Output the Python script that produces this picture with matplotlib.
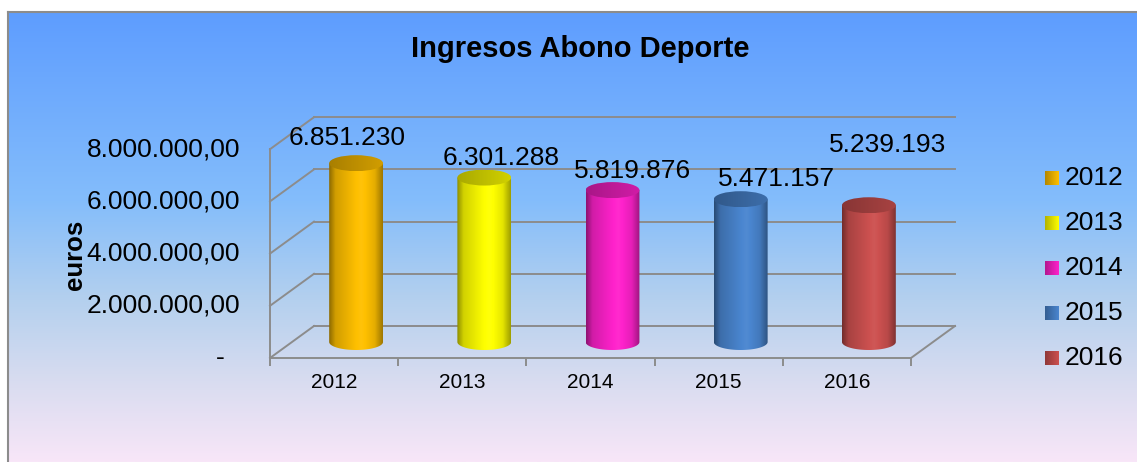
import numpy as np
import matplotlib
matplotlib.use('Agg')
import matplotlib.pyplot as plt
import matplotlib.transforms as mtransforms
from matplotlib.path import Path
from matplotlib.patches import PathPatch, Ellipse
from matplotlib.colors import to_rgb, LinearSegmentedColormap

plt.rcParams['font.family'] = ['Liberation Sans', 'DejaVu Sans']

# --- Data ---
years = ['2012', '2013', '2014', '2015', '2016']
ingresos = [6851230, 6301288, 5819876, 5471157, 5239193]
colores = ['#FFC000', '#FFFF00', '#FF22CC', '#4A86D0', '#CD5150']
yticks = [0, 2000000, 4000000, 6000000, 8000000]
ytick_labels = ['-', '2.000.000,00', '4.000.000,00', '6.000.000,00', '8.000.000,00']

# label offsets in pixels (manual placement like the original)
label_offsets = [(-9, 25), (17, 20), (20, 19), (36, 20), (19, 60)]

W, H = 1137, 462
grid_c = '#8C8C8C'


def shade(color, factors):
    rgb = np.array(to_rgb(color))
    out = []
    for f in factors:
        if f <= 1:
            out.append(rgb * f)
        else:
            out.append(rgb + (1 - rgb) * (f - 1))
    return np.clip(np.array(out), 0, 1)


t = np.linspace(0, 1, 200)
body_f = np.interp(t, [0, 0.12, 0.6, 0.85, 1], [0.55, 0.82, 1.04, 0.9, 0.62])
top_f = np.interp(t, [0, 1], [0.66, 0.82])

fig = plt.figure(figsize=(W / 100, H / 100), dpi=100)
fig.patch.set_facecolor('white')

# background gradient with frame
bg = fig.add_axes([8 / W, 0, 1 - 8 / W, (H - 12) / H])
bg_cmap = LinearSegmentedColormap.from_list('bg', [(0, '#5E9DFF'), (0.42, '#84BDFB'),
                                                   (0.64, '#B4D0EE'), (0.82, '#D8DCF0'),
                                                   (1, '#F8E6F8')])
bg.imshow(np.linspace(0, 1, 256).reshape(-1, 1), cmap=bg_cmap, aspect='auto',
          extent=[0, 1, 0, 1])
bg.set_xticks([])
bg.set_yticks([])
for s in ['right', 'bottom']:
    bg.spines[s].set_visible(False)
for s in ['left', 'top']:
    bg.spines[s].set_color(grid_c)
    bg.spines[s].set_linewidth(1.5)

# --- main plot (pseudo 3D) ---
PXM = 26.1          # pixels per million
UNIT = 128.2        # pixels per category
DX = 44 / UNIT
DY = 32 / PXM * 1e6
ymax = 8e6 + DY
ax_w = (5 + DX) * UNIT
ax_h = ymax / 1e6 * PXM
ax = fig.add_axes([270 / W, (H - 358) / H, ax_w / W, ax_h / H])
ax.patch.set_alpha(0)

for v in yticks:
    ax.plot([-0.5 + DX, 4.5 + DX], [v + DY, v + DY], color=grid_c, lw=1.4, clip_on=False, zorder=1)
    ax.plot([-0.5, -0.5 + DX], [v, v + DY], color=grid_c, lw=1.4, clip_on=False, zorder=1)
ax.plot([4.5, 4.5 + DX], [0, DY], color=grid_c, lw=1.4, clip_on=False, zorder=1)

for s in ['right', 'top']:
    ax.spines[s].set_visible(False)
ax.spines['left'].set_bounds(0, 8e6)
ax.spines['bottom'].set_bounds(-0.5, 4.5)
for s in ['left', 'bottom']:
    ax.spines[s].set_color(grid_c)
    ax.spines[s].set_linewidth(1.4)
ax.set_xticks(np.arange(-0.5, 5, 1))
ax.set_xticklabels([])
ax.tick_params(axis='x', length=6, width=1.4, color=grid_c)
ax.set_yticks([])

hw = 0.21
eh = 8 / PXM * 1e6
for i, (v, c) in enumerate(zip(ingresos, colores)):
    cx = i + DX / 2
    base = DY / 2
    top = v + DY / 2
    theta = np.linspace(np.pi, 2 * np.pi, 60)
    verts = [(cx - hw, top)] + list(zip(cx + hw * np.cos(theta), base + eh * np.sin(theta))) + [(cx + hw, top), (cx - hw, top)]
    body = PathPatch(Path(verts, closed=True), transform=ax.transData, facecolor='none', edgecolor='none')
    ax.add_patch(body)
    im = ax.imshow(shade(c, body_f).reshape(1, -1, 3), extent=[cx - hw, cx + hw, base - eh, top],
                   aspect='auto', zorder=3, interpolation='bilinear')
    im.set_clip_path(body)
    cap = Ellipse((cx, top), 2 * hw, 2 * eh, transform=ax.transData, facecolor='none', edgecolor='none')
    ax.add_patch(cap)
    im2 = ax.imshow(shade(c, top_f).reshape(1, -1, 3), extent=[cx - hw, cx + hw, top - eh, top + eh],
                    aspect='auto', zorder=4, interpolation='bilinear')
    im2.set_clip_path(cap)
    ox, oy = label_offsets[i]
    ax.annotate(f"{v:,}".replace(',', '.'), xy=(cx, top), xytext=(ox, oy), textcoords='offset pixels',
                ha='center', va='center', fontsize=19, zorder=5)

ax.set_xlim(-0.5, 4.5 + DX)
ax.set_ylim(0, ymax)
ax.set_aspect('auto')

# axis labels
for v, lab in zip(yticks, ytick_labels):
    off = -45 if lab == '-' else -30
    trans = mtransforms.offset_copy(ax.transData, fig=fig, x=off, y=0, units='dots')
    ax.text(-0.5, v, lab, transform=trans, ha='right', va='center', fontsize=19, clip_on=False)

for i, yr in enumerate(years):
    trans = mtransforms.offset_copy(ax.transData, fig=fig, x=0, y=-25, units='dots')
    ax.text(i, 0, yr, transform=trans, ha='center', va='center', fontsize=15, clip_on=False)

fig.text(580 / W, 1 - 49 / H, 'Ingresos Abono Deporte', ha='center', va='center',
         fontsize=21, fontweight='bold')
fig.text(75 / W, 1 - 255 / H, 'euros', ha='center', va='center', rotation=90,
         fontsize=18.5, fontweight='bold')

# legend
for k, (yr, c) in enumerate(zip(years, colores)):
    yc = 178 + 45 * k
    sq = fig.add_axes([1045 / W, 1 - (yc + 7) / H, 14 / W, 14 / H])
    sq.imshow(shade(c, np.interp(t, [0, 1], [0.7, 1.0])).reshape(1, -1, 3), aspect='auto')
    sq.axis('off')
    fig.text(1065 / W, 1 - yc / H, yr, ha='left', va='center', fontsize=19)

fig.savefig('out.png', dpi=100)
